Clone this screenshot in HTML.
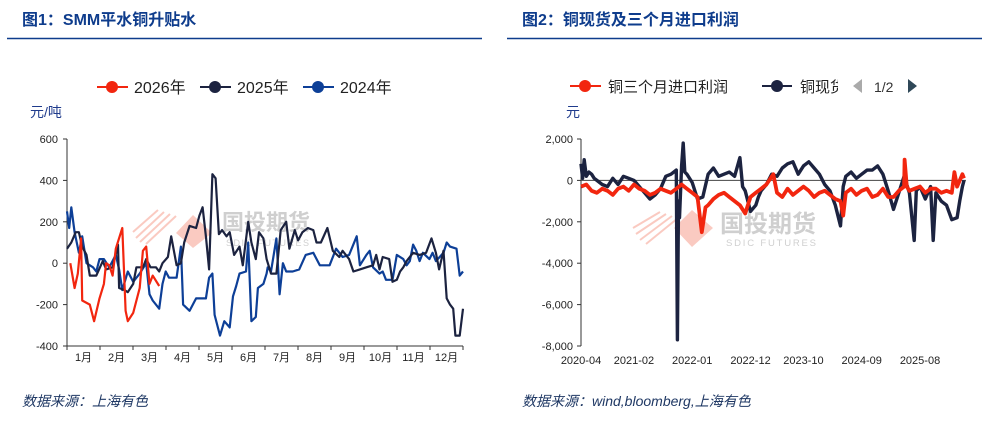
<!DOCTYPE html>
<html><head><meta charset="utf-8">
<style>
body{margin:0;width:988px;height:418px;background:#fff;overflow:hidden;font-family:"Liberation Sans","Noto Sans CJK SC",sans-serif;}
svg text{font-family:"Liberation Sans","Noto Sans CJK SC",sans-serif;}
</style></head>
<body>
<svg id="s" width="988" height="418" xmlns="http://www.w3.org/2000/svg">
  <text x="22" y="25" font-size="16" font-weight="bold" fill="#0e3c8c">图1：SMM平水铜升贴水</text>
  <line x1="7" y1="38.5" x2="482" y2="38.5" stroke="#0e3c8c" stroke-width="1.5"/>
  <text x="522" y="25" font-size="16" font-weight="bold" fill="#0e3c8c">图2：铜现货及三个月进口利润</text>
  <line x1="507" y1="38.5" x2="982" y2="38.5" stroke="#0e3c8c" stroke-width="1.5"/>
  <text x="22" y="406" font-size="14" font-style="italic" fill="#1f3864">数据来源：上海有色</text>
  <text x="522" y="406" font-size="14" font-style="italic" fill="#1f3864">数据来源：wind,bloomberg,上海有色</text>

  <g>
    <g><line x1="97" y1="87" x2="128" y2="87" stroke="#f2260f" stroke-width="2"/><circle cx="112" cy="87" r="6" fill="#f2260f"/><text x="134" y="93" font-size="16" fill="#222">2026年</text></g>
    <g><line x1="200" y1="87" x2="231" y2="87" stroke="#1c2340" stroke-width="2"/><circle cx="215" cy="87" r="6" fill="#1c2340"/><text x="237" y="93" font-size="16" fill="#222">2025年</text></g>
    <g><line x1="303" y1="87" x2="334" y2="87" stroke="#0d3f97" stroke-width="2"/><circle cx="318" cy="87" r="6" fill="#0d3f97"/><text x="340" y="93" font-size="16" fill="#222">2024年</text></g>
  </g>
  <text x="30" y="117" font-size="14" fill="#1f3b8c">元/吨</text>
  <g>
    <g><line x1="570" y1="86" x2="601" y2="86" stroke="#f2260f" stroke-width="2"/><circle cx="585" cy="86" r="6" fill="#f2260f"/><text x="608" y="92" font-size="15" fill="#222">铜三个月进口利润</text></g>
    <g><line x1="762" y1="86" x2="792" y2="86" stroke="#1c2340" stroke-width="2"/><circle cx="777" cy="86" r="6" fill="#1c2340"/><text x="800" y="92" font-size="15" fill="#222">铜现货</text></g>
    <rect x="838" y="74" width="14" height="24" fill="#fff"/>
    <polygon points="862,79 862,93 853,86" fill="#aaa"/>
    <text x="874" y="92" font-size="14" fill="#333">1/2</text>
    <polygon points="908,79 908,93 917,86" fill="#2f4858"/>
  </g>
  <text x="566" y="117" font-size="14" fill="#1f3b8c">元</text>

  <g opacity="0.35">
    <g stroke="#f26b50" stroke-width="2"><line x1="133" y1="232" x2="158" y2="210"/><line x1="136" y1="238" x2="164" y2="212"/><line x1="140" y1="242" x2="170" y2="214"/><line x1="146" y1="244" x2="176" y2="216"/></g>
    <polygon points="193,215 212,233 193,248 176,233" fill="#f26b50"/>
    <text x="222" y="230" font-size="22" font-weight="bold" fill="#777">国投期货</text>
    <text x="226" y="246" font-size="9" fill="#777" letter-spacing="1.5">SDIC FUTURES</text>
  </g>
  <g opacity="0.35">
    <g stroke="#f26b50" stroke-width="2"><line x1="633" y1="228" x2="660" y2="212"/><line x1="636" y1="234" x2="666" y2="214"/><line x1="640" y1="240" x2="672" y2="216"/><line x1="646" y1="244" x2="678" y2="218"/></g>
    <polygon points="692,210 713,228 692,247 674,228" fill="#f26b50"/>
    <text x="720" y="232" font-size="24" font-weight="bold" fill="#777">国投期货</text>
    <text x="726" y="246" font-size="9.5" fill="#777" letter-spacing="1.8">SDIC FUTURES</text>
  </g>
  <g id="c1"></g>
  <g id="c2"></g>
</svg>
<script>
const c1Months = ["1月","2月","3月","4月","5月","6月","7月","8月","9月","10月","11月","12月"];
const c1Ticks = [600,400,200,0,-200,-400];
const days2024 = [0,2,4,7,11,14,18,24,27,30,34,39,45,48,51,56,61,67,73,76,79,85,88,91,94,101,105,107,113,119,128,131,134,136,141,145,150,153,156,159,165,167,170,174,176,181,184,185,188,193,196,199,202,208,214,220,227,233,242,248,254,260,267,270,276,279,282,288,291,294,300,304,310,313,316,319,322,325,328,334,337,340,347,350,353,359,362,365];
const vals2024 = [250,170,270,150,50,130,0,-20,-40,20,20,-20,40,-30,-130,-40,-90,-50,0,-150,-180,-220,-100,-40,-70,-70,80,-200,-230,-170,-170,-70,-50,-250,-350,-280,-310,-160,-110,-50,-40,100,-280,-260,-120,-100,-50,-20,-40,120,-150,0,-40,-40,-30,40,50,-10,-10,70,30,40,130,-10,40,60,-20,-50,-40,-80,-80,40,20,-10,10,90,60,10,50,20,50,10,50,100,80,70,-60,-40];
const days2025 = [0,4,8,11,14,18,21,27,33,36,42,47,48,53,56,61,64,70,73,77,82,85,88,93,96,101,105,108,113,119,122,125,128,131,134,137,140,143,147,150,154,159,162,167,170,174,177,181,184,188,193,197,202,205,210,213,217,222,227,230,234,240,245,251,254,260,264,270,276,282,285,288,291,297,300,304,307,310,313,319,325,331,336,340,343,347,350,353,356,358,362,365];
const vals2025 = [70,100,150,150,80,40,-60,-60,10,-30,-20,90,-120,-130,-140,-100,-20,-20,20,-20,-20,-40,0,30,130,-10,0,100,180,170,230,270,130,-30,430,410,140,160,130,150,40,80,-10,200,100,20,150,120,20,-50,-50,160,200,70,160,110,150,170,160,100,100,170,60,30,60,20,-40,-30,-20,-10,40,-30,30,20,-90,-80,-40,-20,10,50,40,50,120,50,-30,60,-170,-200,-220,-350,-350,-220];
const days2026 = [3,7,10,13,14,21,25,30,34,36,39,42,45,51,54,56,61,67,70,73,76,79,85];
const vals2026 = [0,-120,-50,120,-180,-200,-280,-170,-100,0,-10,-60,70,170,-230,-280,-240,-120,60,80,-100,-60,-110];

const c2Labels = ["2020-04","2021-02","2022-01","2022-12","2023-10","2024-09","2025-08"];
const c2LabelMonths = [0,10,21,32,42,53,64];
const c2Ticks = [2000,0,-2000,-4000,-6000,-8000];
const spotMonths = [0,0.3,0.6,1,1.5,2,2.5,3,4,5,6,7,8,9,10,11,12,13,14,15,16,17,18,18.2,18.4,18.6,19,19.3,19.6,20,21,22,23,24,25,26,27,28,29,30,30.5,31,32,33,33.5,34,35,36,37,38,39,40,41,42,43,44,45,46,47,48,49,49.5,50,51,52,53,54,55,56,57,58,59,60,61,62,62.9,63.3,64,65,66,66.5,67,68,69,70,71,71.5,72,72.3];
const spotVals = [800,100,1000,200,400,300,100,0,-200,-300,100,-200,200,100,0,-300,-600,-900,-700,-400,200,300,500,-7700,-1000,-1800,700,1800,400,300,-100,-900,-800,300,600,200,300,400,200,1100,-300,-500,-1500,-1200,-800,-500,-200,300,200,600,800,900,300,700,900,600,300,-200,-500,-1200,-2200,-300,200,400,100,300,500,500,700,300,-500,-1400,-600,200,-600,-2900,-500,-300,-900,-300,-2900,-600,-1000,-1200,-1900,-1800,-1000,-300,0,200];
const profitMonths = [0,1,2,3,4,5,6,7,8,9,10,11,12,13,14,15,16,17,18,19,20,21,22,22.8,23.5,24,25,26,27,28,29,30,31,32,33,34,35,36.3,37,38,39,40,41,42,43,44,45,46,47,48,49,49.5,50,51,52,53,54,55,56,57,58,59,60,61,61.1,61.5,62,63,64,65,66,67,68,69,70,70.5,71,72,72.3];
const profitVals = [-300,-200,-500,-600,-400,-500,-700,-400,-300,-500,-200,-400,-500,-700,-600,-400,-500,-600,-400,-200,-400,-600,-800,-2500,-1300,-1200,-900,-700,-600,-800,-1000,-1200,-1600,-800,-600,-400,-200,300,-600,-800,-400,-700,-500,-300,-500,-800,-600,-500,-700,-900,-1000,-1700,-600,-400,-700,-500,-400,-800,-700,-400,-800,-800,-500,-300,1000,-300,-500,-400,-300,-600,-400,-400,-600,-500,-600,400,-300,300,100];

const NS="http://www.w3.org/2000/svg";
function mk(tag, attrs, parent){const e=document.createElementNS(NS,tag);for(const k in attrs)e.setAttribute(k,attrs[k]);parent.appendChild(e);return e;}

const g1=document.getElementById('c1');
const X0=67, X1=463, Y600=139, Ym400=346;
const x1s=d=>X0+(X1-X0)*d/365;
const y1s=v=>Y600+(600-v)*(Ym400-Y600)/1000;
for(const t of c1Ticks){
  const tk=mk('line',{x1:X0-4,x2:X0,y1:y1s(t),y2:y1s(t),stroke:'#333'},g1);
  
  
  const tl=mk('text',{x:X0-9,y:y1s(t)+4,'font-size':11,'text-anchor':'end',fill:'#222'},g1);tl.textContent=t;
  
  
}
const ax1=mk('line',{x1:X0,x2:X0,y1:Y600,y2:Ym400,stroke:'#333'},g1);


const bx1=mk('line',{x1:X0,x2:X1,y1:Ym400,y2:Ym400,stroke:'#333'},g1);


c1Months.forEach((m,i)=>{
  const w=(X1-X0)/c1Months.length;
  const tk=mk('line',{x1:X0+i*w,x2:X0+i*w,y1:Ym400,y2:Ym400+4,stroke:'#333'},g1);
  
  
  const tl=mk('text',{x:X0+(i+0.5)*w,y:Ym400+15,'font-size':11,'text-anchor':'middle',fill:'#222'},g1);tl.textContent=m;
  
  
});
mk('line',{x1:X1,x2:X1,y1:Ym400,y2:Ym400+4,stroke:'#333'},g1);
function line1(days,vals,color,name){
  const n=Math.min(days.length,vals.length);let d='';
  for(let i=0;i<n;i++)d+=(i?'L':'M')+x1s(days[i]).toFixed(1)+','+y1s(vals[i]).toFixed(1);
  const p=mk('path',{d:d,fill:'none',stroke:color,'stroke-width':2.2,'stroke-linejoin':'round'},g1);
  
  
}
line1(days2024,vals2024,'#0d3f97','series-2024');
line1(days2025,vals2025,'#1c2340','series-2025');
line1(days2026,vals2026,'#f2260f','series-2026');

const g2=document.getElementById('c2');
const XA=581, XM=(920-581)/64, YT=139, YB=346;
const x2s=m=>XA+m*XM;
const y2s=v=>YT+(2000-v)*(YB-YT)/10000;
for(const t of c2Ticks){
  const tk=mk('line',{x1:XA-4,x2:XA,y1:y2s(t),y2:y2s(t),stroke:'#333'},g2);
  
  
  const tl=mk('text',{x:XA-8,y:y2s(t)+4,'font-size':11,'text-anchor':'end',fill:'#222'},g2);tl.textContent=t.toLocaleString('en-US');
  
  
}
const ax2=mk('line',{x1:XA,x2:XA,y1:YT,y2:YB,stroke:'#333'},g2);


const zl=mk('line',{x1:XA,x2:966,y1:y2s(0),y2:y2s(0),stroke:'#444'},g2);


c2Labels.forEach((l,i)=>{
  const tl=mk('text',{x:x2s(c2LabelMonths[i]),y:YB+18,'font-size':11,'text-anchor':'middle',fill:'#222'},g2);tl.textContent=l;
  
  
});
function line2(ms,vals,color,name,w){
  const n=Math.min(ms.length,vals.length);let d='';
  for(let i=0;i<n;i++)d+=(i?'L':'M')+x2s(ms[i]).toFixed(1)+','+y2s(vals[i]).toFixed(1);
  const p=mk('path',{d:d,fill:'none',stroke:color,'stroke-width':w,'stroke-linejoin':'round'},g2);
  
  
}
line2(spotMonths,spotVals,'#1c2340','series-spot-profit',3.4);
line2(profitMonths,profitVals,'#f2260f','series-import-profit',3.8);
</script>
</body></html>
